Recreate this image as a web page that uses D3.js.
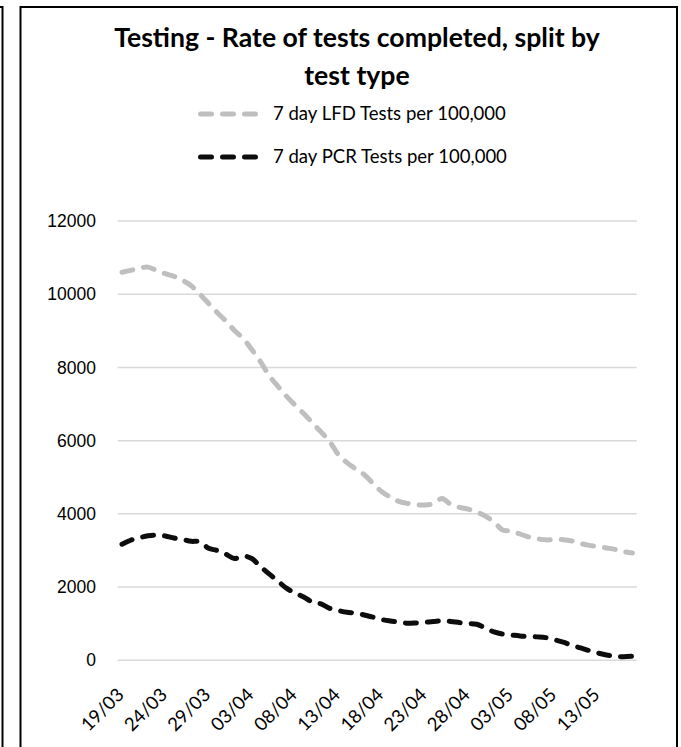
<!DOCTYPE html>
<html>
<head>
<meta charset="utf-8">
<script src="https://cdn.jsdelivr.net/npm/d3@7/dist/d3.min.js"></script>
<style>
  html, body { margin: 0; padding: 0; background: #fff; }
  svg { display: block; }
</style>
</head>
<body>
<script>
const categories = [
  "19/03","20/03","21/03","22/03","23/03","24/03","25/03","26/03","27/03","28/03",
  "29/03","30/03","31/03","01/04","02/04","03/04","04/04","05/04","06/04","07/04",
  "08/04","09/04","10/04","11/04","12/04","13/04","14/04","15/04","16/04","17/04",
  "18/04","19/04","20/04","21/04","22/04","23/04","24/04","25/04","26/04","27/04",
  "28/04","29/04","30/04","01/05","02/05","03/05","04/05","05/05","06/05","07/05",
  "08/05","09/05","10/05","11/05","12/05","13/05","14/05","15/05","16/05","17/05"
];
const tickLabels = ["19/03","24/03","29/03","03/04","08/04","13/04","18/04","23/04","28/04","03/05","08/05","13/05"];
const lfdValues = [
  10600,10650,10710,10740,10650,10560,10490,10380,10230,10000,
  9750,9500,9270,9010,8790,8490,8160,7780,7490,7215,
  6970,6740,6490,6240,5980,5620,5400,5230,5070,4840,
  4610,4460,4340,4285,4250,4242,4280,4420,4260,4180,
  4130,4050,3940,3780,3560,3530,3450,3370,3320,3290,
  3300,3295,3260,3190,3140,3110,3070,3030,2970,2930
];
const pcrValues = [
  3170,3280,3350,3400,3420,3395,3340,3300,3250,3240,
  3060,3000,2900,2780,2850,2780,2560,2360,2170,1970,
  1840,1730,1590,1540,1420,1360,1310,1290,1237,1180,
  1115,1075,1045,1010,1020,1040,1060,1080,1060,1030,
  1005,985,880,775,715,690,665,650,640,620,
  560,495,410,340,265,200,145,110,98,110
];
const yTicks = [0, 2000, 4000, 6000, 8000, 10000, 12000];
const titleLines = ["Testing - Rate of tests completed, split by", "test type"];
const seriesNames = ["7 day LFD Tests per 100,000", "7 day PCR Tests per 100,000"];
const seriesColors = ["#bfbfbf", "#0d0d0d"];

const W = 681, H = 747;
const svg = d3.select("body").append("svg").attr("width", W).attr("height", H);

// frames
svg.append("path").attr("d", "M0,7 H2.5 V747").attr("fill", "none").attr("stroke", "#000").attr("stroke-width", 2);
svg.append("rect").attr("x", 20.5).attr("y", 7).attr("width", 656.5).attr("height", 760)
  .attr("fill", "#fff").attr("stroke", "#000").attr("stroke-width", 2);

const x = d3.scaleBand().domain(categories).range([117.7, 636.7]);
const y = d3.scaleLinear().domain([0, 12000]).range([660.3, 221]);

// gridlines
svg.append("g").selectAll("line").data(yTicks).join("line")
  .attr("x1", 117.7).attr("x2", 636.7)
  .attr("y1", d => y(d)).attr("y2", d => y(d))
  .attr("stroke", "#d9d9d9").attr("stroke-width", 1.5);

// y axis labels
const yAxis = d3.axisLeft(y).tickValues(yTicks).tickSize(0).tickPadding(0).tickFormat(d3.format("d"));
const yg = svg.append("g").attr("transform", "translate(96,0)").call(yAxis);
yg.select(".domain").remove();
yg.selectAll("text").attr("font-family", "'Liberation Sans', Arial, sans-serif")
  .attr("font-size", 17.5).attr("fill", "#000");

// x axis labels
const xg = svg.append("g");
xg.selectAll("text").data(tickLabels).join("text")
  .attr("transform", d => `translate(${x(d) + x.bandwidth() / 2 + 3},696) rotate(-45)`)
  .attr("text-anchor", "end")
  .attr("font-family", "Lato, 'Open Sans', sans-serif")
  .attr("font-size", 18.5)
  .attr("fill", "#000")
  .text(d => d);

// lines
const line = d3.line()
  .x((d, i) => x(categories[i]) + x.bandwidth() / 2)
  .y(d => y(d))
  .curve(d3.curveCatmullRom.alpha(0.5));

[lfdValues, pcrValues].forEach((vals, k) => {
  svg.append("path").datum(vals)
    .attr("d", line)
    .attr("fill", "none")
    .attr("stroke", seriesColors[k])
    .attr("stroke-width", 5)
    .attr("stroke-dasharray", "11,11")
    .attr("stroke-linecap", "round");
});

// title
const titleG = svg.append("g");
const titleY = [47, 85];
titleLines.forEach((t, i) => {
  titleG.append("text")
    .attr("x", 357).attr("y", titleY[i])
    .attr("text-anchor", "middle")
    .attr("font-family", "Lato, 'Open Sans', sans-serif")
    .attr("font-weight", "bold")
    .attr("font-size", 22)
    .attr("fill", "#000")
    .text(t);
});
{
  const first = titleG.select("text").node();
  const w = first.getComputedTextLength();
  const fs = 22 * 486 / w;
  titleG.selectAll("text").attr("font-size", fs);
}

// legend
const legY = [114, 157];
const legG = svg.append("g");
seriesNames.forEach((name, i) => {
  legG.append("line")
    .attr("x1", 200.5).attr("x2", 255.5)
    .attr("y1", legY[i]).attr("y2", legY[i])
    .attr("stroke", seriesColors[i])
    .attr("stroke-width", 5)
    .attr("stroke-dasharray", "11,11")
    .attr("stroke-linecap", "round");
  legG.append("text")
    .attr("x", 273).attr("y", legY[i])
    .attr("dy", "0.35em")
    .attr("font-family", "Lato, 'Open Sans', sans-serif")
    .attr("font-size", 16)
    .attr("fill", "#000")
    .text(name);
});
{
  const n = legG.select("text").node();
  const w = n.getComputedTextLength();
  legG.selectAll("text").attr("font-size", 16 * 233 / w);
}
</script>
</body>
</html>
